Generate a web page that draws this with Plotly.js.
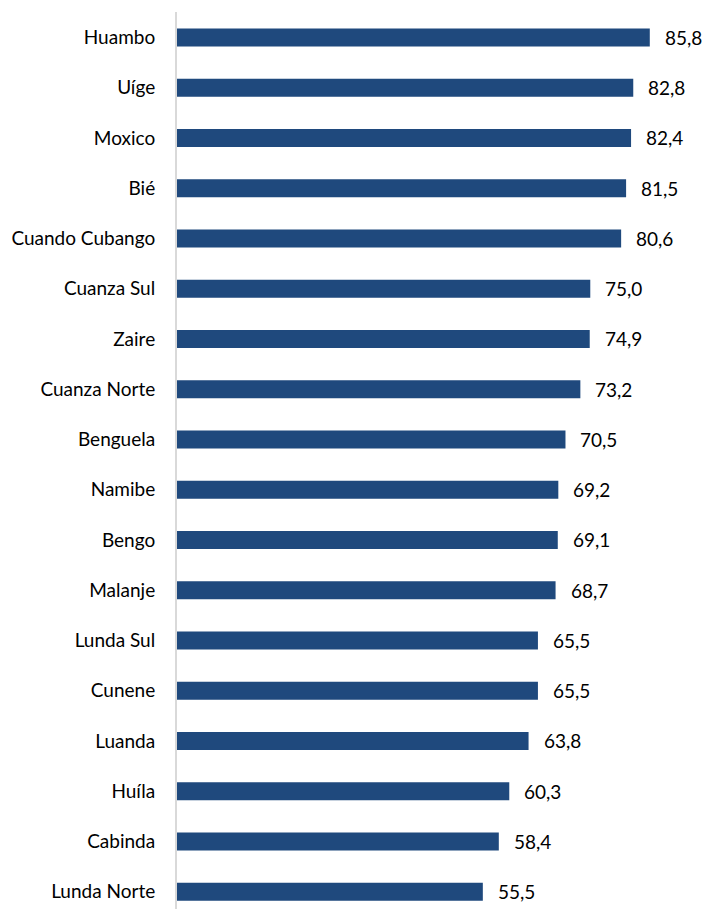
<!DOCTYPE html>
<html>
<head>
<meta charset="utf-8">
<script src="https://cdn.plot.ly/plotly-3.0.1.min.js"></script>
<style>html,body{margin:0;padding:0;background:#fff;}#chart{width:706px;height:909px;}</style>
</head>
<body>
<div id="chart"></div>
<script>
const provinces = ["Huambo","Uíge","Moxico","Bié","Cuando Cubango","Cuanza Sul","Zaire","Cuanza Norte","Benguela","Namibe","Bengo","Malanje","Lunda Sul","Cunene","Luanda","Huíla","Cabinda","Lunda Norte"];
const values = [85.8,82.8,82.4,81.5,80.6,75.0,74.9,73.2,70.5,69.2,69.1,68.7,65.5,65.5,63.8,60.3,58.4,55.5];
const valueLabels = values.map(v => v.toFixed(1).replace('.', ','));

const FONT = 'Lato, "Open Sans", sans-serif';

const trace = {
  type: 'bar',
  orientation: 'h',
  x: values,
  y: provinces,
  marker: {color: '#1F497D'},
  hoverinfo: 'skip'
};

const annotations = provinces.map((p, i) => ({
  x: values[i], y: p, xref: 'x', yref: 'y',
  text: valueLabels[i], showarrow: false,
  xanchor: 'left', xshift: 13,
  font: {family: FONT, size: 19, color: '#000', weight: 400}
}));

const layout = {
  width: 706, height: 909,
  margin: {l: 177, r: 0, t: 12, b: 0},
  paper_bgcolor: '#fff', plot_bgcolor: '#fff',
  bargap: 0.642,
  showlegend: false,
  xaxis: {range: [0, 96], visible: false, fixedrange: true},
  yaxis: {
    type: 'category',
    categoryorder: 'array', categoryarray: provinces,
    range: [17.344, -0.507],
    showline: true, linecolor: '#D9D9D9', linewidth: 2,
    showgrid: false, zeroline: false,
    ticks: 'outside', ticklen: 16, tickcolor: 'rgba(0,0,0,0)',
    tickfont: {family: FONT, size: 19, color: '#000', weight: 400}
  },
  annotations: annotations
};

Plotly.newPlot('chart', [trace], layout, {displayModeBar: false, staticPlot: true});
</script>
</body>
</html>
